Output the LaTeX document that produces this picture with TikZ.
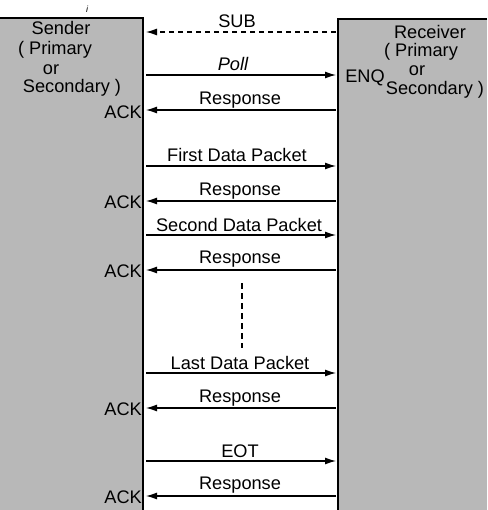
\documentclass[tikz,border=0pt]{standalone}
\usepackage{fontspec}
\setmainfont{Liberation Sans}
\usetikzlibrary{arrows.meta}
\begin{document}
\begin{tikzpicture}[x=1pt,y=-1pt,
  lbl/.style={font=\fontsize{18.2}{20}\selectfont, inner sep=0pt},
  msg/.style={line width=1.2pt, -{Latex[length=11pt,width=7pt]}},
  sidebox/.style={fill=black!28, draw=none, inner sep=0pt, outer sep=0pt},
  edge/.style={line width=1.6pt},
]
\useasboundingbox (0,0) rectangle (487,510);
% side boxes
\node[sidebox, anchor=north west, minimum width=143pt, minimum height=492pt] (lbox) at (0,18) {};
\node[sidebox, anchor=north west, minimum width=149pt, minimum height=491pt] (rbox) at (338,19) {};
\draw[edge] (lbox.north west) -- (lbox.north east) -- (lbox.south east);
\draw[edge] (rbox.north east) -- (rbox.north west) -- (rbox.south west);
% stray mark
\node[font=\fontsize{9}{10}\selectfont\itshape, inner sep=0pt] (mark) at (87,9) {i};
% side texts
\node[lbl] (snd) at (61,28) {Sender};
\node[lbl] (sp) at (55,50) {( Primary};
\node[lbl] (sor) at (51,70) {or};
\node[lbl] (ssec) at (72,88) {Secondary )};
\node[lbl] (rcv) at (430,32) {Receiver};
\node[lbl] (rp) at (421,52) {( Primary};
\node[lbl] (ror) at (417,71) {or};
\node[lbl] (rsec) at (435,90) {Secondary )};
\node[lbl] (enq) at (365,78) {ENQ};
% coordinates of arrow ends
\foreach \n/\y in {1/32,2/75,3/110,4/166,5/201,6/235,7/270,8/373,9/408,10/461,11/496}{
  \coordinate (L\n) at (146,\y);
  \coordinate (R\n) at (336,\y);
}
% messages
\draw[msg, dashed, dash pattern=on 5pt off 4pt] (R1) -- (L1);
\node[lbl] (t1) at (237,21) {SUB};
\draw[msg] (L2) -- (R2);
\node[lbl, font=\fontsize{18.2}{20}\selectfont\itshape] (t2) at (233,64) {Poll};
\draw[msg] (R3) -- (L3);
\node[lbl] (t3) at (240,100) {Response};
\node[lbl, anchor=east] (a3) at (142,112) {ACK};
\draw[msg] (L4) -- (R4);
\node[lbl] (t4) at (237,155) {First Data Packet};
\draw[msg] (R5) -- (L5);
\node[lbl] (t5) at (240,191) {Response};
\node[lbl, anchor=east] (a5) at (142,202) {ACK};
\draw[msg] (L6) -- (R6);
\node[lbl] (t6) at (239,225) {Second Data Packet};
\draw[msg] (R7) -- (L7);
\node[lbl] (t7) at (240,259) {Response};
\node[lbl, anchor=east] (a7) at (142,271) {ACK};
% ellipsis dashes
\coordinate (d1) at (242,283);
\coordinate (d2) at (242,348);
\draw[line width=1.1pt, dash pattern=on 6pt off 4pt] (d1) -- (d2);
\draw[msg] (L8) -- (R8);
\node[lbl] (t8) at (240,363) {Last Data Packet};
\draw[msg] (R9) -- (L9);
\node[lbl] (t9) at (240,398) {Response};
\node[lbl, anchor=east] (a9) at (142,409) {ACK};
\draw[msg] (L10) -- (R10);
\node[lbl] (t10) at (240,451) {EOT};
\draw[msg] (R11) -- (L11);
\node[lbl] (t11) at (240,485) {Response};
\node[lbl, anchor=east] (a11) at (142,497) {ACK};
\end{tikzpicture}
\end{document}
